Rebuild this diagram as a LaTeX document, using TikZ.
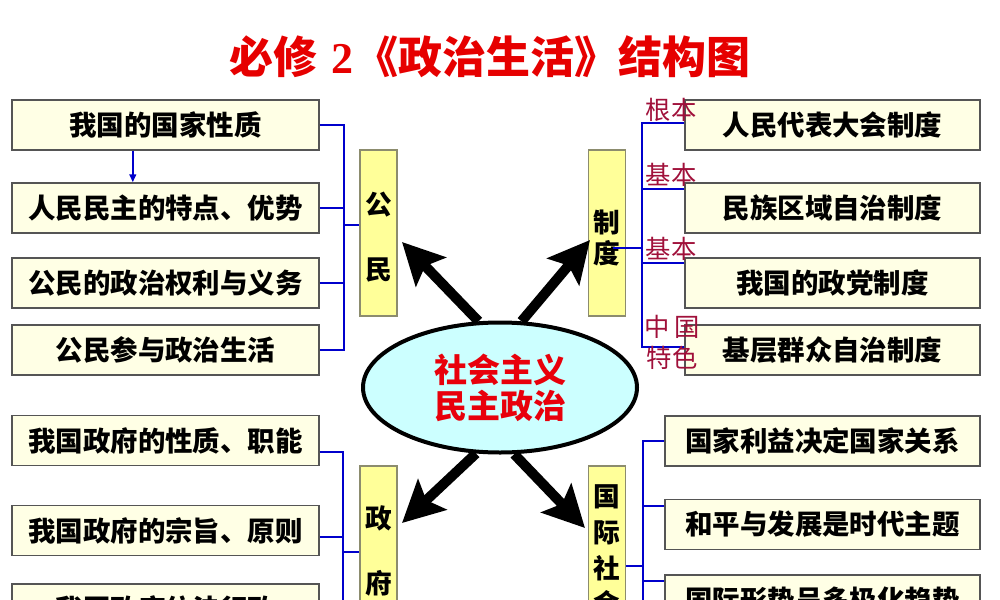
\documentclass[tikz,border=0pt]{standalone}
\usepackage{fontspec}
\setmainfont{Noto Sans CJK SC}
\newfontfamily\serifnum{Liberation Serif}
\usetikzlibrary{arrows.meta,calc,shapes.geometric}
\definecolor{cream}{RGB}{255,255,229}
\definecolor{boxgray}{RGB}{85,85,85}
\definecolor{catyellow}{RGB}{255,255,153}
\definecolor{catgray}{RGB}{140,140,110}
\definecolor{linkblue}{RGB}{0,0,204}
\definecolor{tagred}{RGB}{160,16,58}
\definecolor{ellfill}{RGB}{204,255,255}
\definecolor{titlered}{RGB}{230,0,0}
\definecolor{ellred}{RGB}{232,0,11}
\begin{document}
\begin{tikzpicture}[x=0.75pt,y=-0.75pt,
  itembox/.style={draw=boxgray,fill=cream,line width=1.1pt,minimum height=37.5pt,inner sep=0pt,
    font=\fontsize{20.6}{24}\selectfont\bfseries},
  lbox/.style={itembox,minimum width=230.25pt},
  rbox/.style={itembox,minimum width=221.25pt},
  rboxw/.style={itembox,minimum width=236.25pt},
  catbox/.style={draw=catgray,fill=catyellow,line width=1.1pt,minimum width=28pt,inner sep=0pt},
  cattext/.style={align=center,inner sep=0pt,font=\fontsize{20}{#1}\selectfont\bfseries},
  link/.style={draw=linkblue,line width=1.5pt},
  bigarrow/.style={line width=7.5pt,-{Stealth[length=31pt,width=31pt,inset=6pt]}},
  tag/.style={text=tagred,inner sep=0pt,font=\fontsize{19}{20}\selectfont}]
\useasboundingbox (0,0) rectangle (1000,600);
\clip (0,0) rectangle (1000,600);

% title
\node[text=titlered,font=\fontsize{33}{36}\selectfont\bfseries] (T) at (490,57)
  {必修\hspace{10pt}{\serifnum\bfseries 2}\hspace{1pt}《政治生活》结构图};

% left upper boxes
\node[lbox] (L1) at (165.5,125) {我国的国家性质};
\node[lbox] (L2) at (165.5,208) {人民民主的特点、优势};
\node[lbox] (L3) at (165.5,283) {公民的政治权利与义务};
\node[lbox] (L4) at (165.5,350) {公民参与政治生活};
% left lower boxes
\node[lbox] (L5) at (165.5,440.5) {我国政府的性质、职能};
\node[lbox] (L6) at (165.5,530.5) {我国政府的宗旨、原则};
\node[lbox] (L7) at (165.5,609) {我国政府依法行政};
% right upper boxes
\node[rbox] (R1) at (832.5,125) {人民代表大会制度};
\node[rbox] (R2) at (832.5,208) {民族区域自治制度};
\node[rbox] (R3) at (832.5,283) {我国的政党制度};
\node[rbox] (R4) at (832.5,350) {基层群众自治制度};
% right lower boxes
\node[rboxw] (R5) at (822.5,441) {国家利益决定国家关系};
\node[rboxw] (R6) at (822.5,524.5) {和平与发展是时代主题};
\node[rboxw] (R7) at (822.5,600) {国际形势呈多极化趋势};

% category boxes
\node[catbox,minimum height=124.5pt] (gm) at (378.5,233) {};
\node[cattext=48.75] (gmt) at (378.5,237.5) {公\\民};
\node[catbox,minimum height=124.5pt] (zd) at (607,233) {};
\node[catbox,minimum height=130.5pt] (zf) at (378.5,553) {};
\node[cattext=48.75] (zft) at (378.5,550.5) {政\\府};
\node[catbox,minimum height=130.5pt] (gj) at (607,553) {};
\node[cattext=26.8] (gjt) at (607,550.5) {国\\际\\社\\会};

% left upper connectors
\coordinate (sl) at (344,225);
\draw[link] (L1.east) -| (sl);
\draw[link] (L4.east) -| (sl);
\draw[link] (L2.east) -- (L2.east -| sl);
\draw[link] (L3.east) -- (L3.east -| sl);
\draw[link] (sl) -- (sl -| gm.west);
\draw[link,-{Triangle[length=6pt,width=5pt]}] ($(L1.south west)!0.394!(L1.south east)$) -- ($(L2.north west)!0.394!(L2.north east)$);

% right upper connectors
\coordinate (sr) at (642,248);
\coordinate (zs) at (613,248);
\coordinate (p1) at ($(R1.north west)!0.46!(R1.south west)$);
\coordinate (p2) at ($(R2.north west)!0.14!(R2.south west)$);
\coordinate (p3) at ($(R3.north west)!0.12!(R3.south west)$);
\coordinate (p4) at ($(R4.north west)!0.44!(R4.south west)$);
\draw[link] (p1) -| (sr);
\draw[link] (p4) -| (sr);
\draw[link] (p2) -- (p2 -| sr);
\draw[link] (p3) -- (p3 -| sr);
\node[cattext=23.25] (zdt) at (607,237.5) {制\\度};
\draw[link] (zs) -- (sr);

% left lower connectors
\coordinate (sl2) at (343,552);
\coordinate (q5) at ($(L5.north east)!0.73!(L5.south east)$);
\coordinate (q6) at ($(L6.north east)!0.63!(L6.south east)$);
\coordinate (q7) at ($(L7.north east)!0.7!(L7.south east)$);
\draw[link] (q5) -| (sl2);
\draw[link] (q7) -| (sl2);
\draw[link] (q6) -- (q6 -| sl2);
\draw[link] (sl2) -- (sl2 -| zf.west);

% right lower connectors
\coordinate (sr2) at (643,566);
\coordinate (se) at (643,640);
\coordinate (p5) at (R5.west);
\coordinate (p6) at ($(R6.north west)!0.15!(R6.south west)$);
\coordinate (p7) at ($(R7.north west)!0.14!(R7.south west)$);
\draw[link] (p5) -| (sr2);
\draw[link] (sr2) -- (se);
\draw[link] (p6) -- (p6 -| sr2);
\draw[link] (p7) -- (p7 -| sr2);
\draw[link] (gj.east |- sr2) -- (sr2);

% tags
\node[tag] (t1) at (671,110) {根本};
\node[tag] (t2) at (671,175) {基本};
\node[tag] (t3) at (671,249) {基本};
\node[tag] (t4) at (672,327) {中\,国};
\node[tag] (t5) at (672,358) {特色};

% centre ellipse
\node[ellipse,draw=black,fill=ellfill,line width=3pt,minimum width=205.5pt,minimum height=97.5pt,
  inner sep=0pt,align=center,text=ellred,font=\fontsize{24.75}{27}\selectfont\bfseries] (E) at (500,387.5)
  {社会主义\\民主政治};

% big arrows
\coordinate (a1) at (402,242);
\coordinate (a2) at (590,240);
\coordinate (a3) at (402,523);
\coordinate (a4) at (585,528);
\draw[bigarrow] (E.108) -- (a1);
\draw[bigarrow] (E.72) -- (a2);
\draw[bigarrow] (E.250) -- (a3);
\draw[bigarrow] (E.282) -- (a4);
\end{tikzpicture}
\end{document}
